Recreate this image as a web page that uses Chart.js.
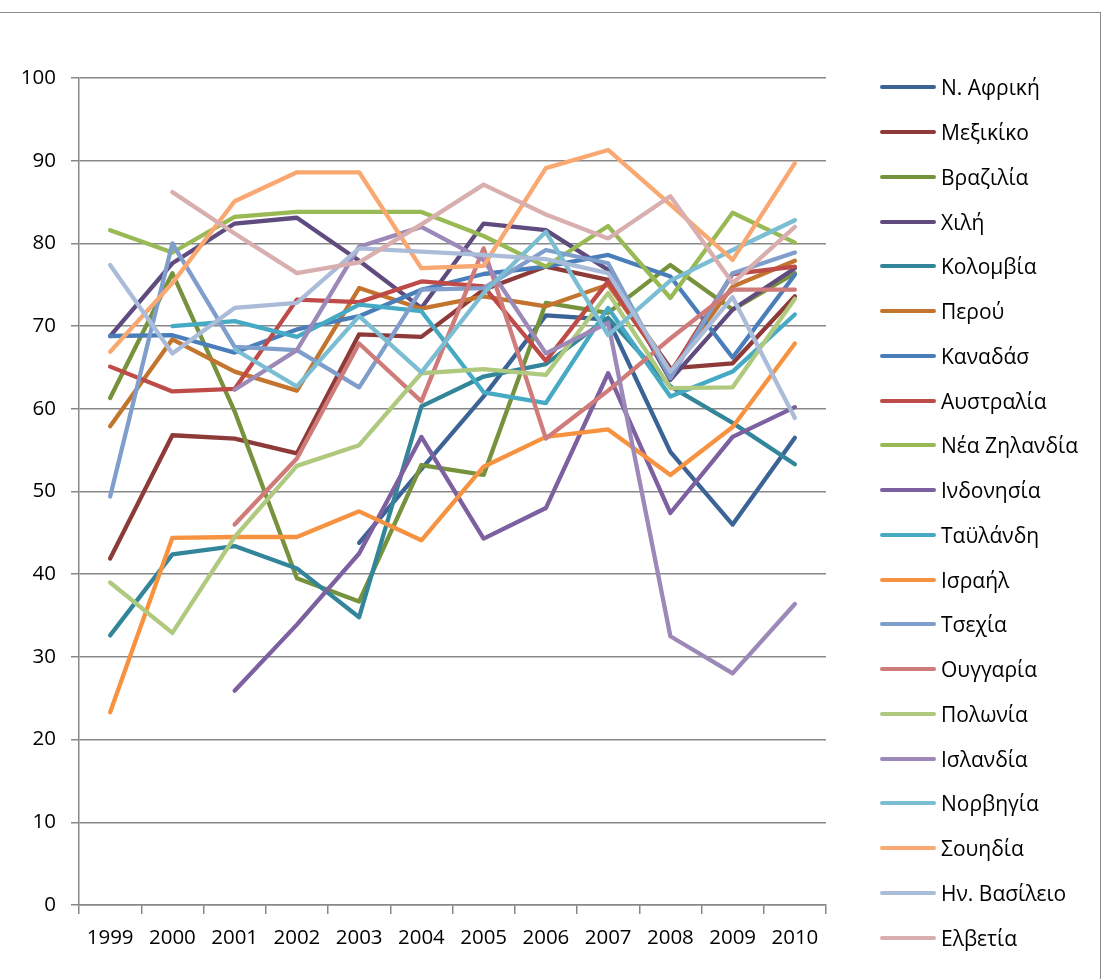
<!DOCTYPE html>
<html>
<head>
<meta charset="utf-8">
<script src="https://cdn.jsdelivr.net/npm/chart.js@4.4.0/dist/chart.umd.min.js"></script>
<style>
  body { margin: 0; background: #fff; font-family: 'Open Sans', sans-serif; }
  #wrap { position: relative; width: 1103px; height: 979px; overflow: hidden; }
  #frame { position: absolute; left: -2px; top: 12px; width: 1101px; height: 1000px; border: 1px solid #8a8a8a; }
  #chart { position: absolute; left: 0; top: 0; }
  #legend { position: absolute; left: 880px; top: 65px; }
  .item { display: flex; align-items: center; height: 44.75px; font-size: 21px; color: #000; white-space: nowrap; }
  .item span.line { display: inline-block; width: 56px; height: 4px; border-radius: 2px; margin-right: 5px; }
</style>
</head>
<body>
<div id="wrap">
  <div id="frame"></div>
  <canvas id="chart" width="1103" height="979"></canvas>
  <div id="legend"></div>
</div>
<script>
// years on the x axis
const years = ['1999', '2000', '2001', '2002', '2003', '2004', '2005', '2006', '2007', '2008', '2009', '2010'];

const countries = ['Ν. Αφρική', 'Μεξικίκο', 'Βραζιλία', 'Χιλή', 'Κολομβία', 'Περού', 'Καναδάσ', 'Αυστραλία',
  'Νέα Ζηλανδία', 'Ινδονησία', 'Ταϋλάνδη', 'Ισραήλ', 'Τσεχία', 'Ουγγαρία', 'Πολωνία', 'Ισλανδία',
  'Νορβηγία', 'Σουηδία', 'Ην. Βασίλειο', 'Ελβετία'];

const colors = ['#3B6396', '#8E3A38', '#76923C', '#5F4B7D', '#33869A', '#C3742F', '#4A7EBB', '#BE4B48',
  '#98B954', '#7D60A0', '#46AAC5', '#F69240', '#7F9ECC', '#CF7B79', '#AFC97E', '#9C89B8',
  '#7BBDD2', '#F9A871', '#ABBCD9', '#D9AEAE'];

// values (null = no value that year)
const nAfriki     = [null, null, null, null, 43.8, 52.7, 61.5, 71.3, 70.8, 54.8, 46.0, 56.5];
const mexiko      = [41.9, 56.8, 56.4, 54.6, 69.0, 68.7, 74.4, 77.2, 75.6, 64.9, 65.5, 73.6];
const brazilia    = [61.3, 76.4, 59.7, 39.5, 36.7, 53.2, 52.0, 72.8, 71.6, 77.4, 72.0, 76.4];
const chili       = [68.8, 77.6, 82.4, 83.1, 77.9, 72.2, 82.4, 81.6, 76.8, 63.5, 72.0, 77.0];
const kolomvia    = [32.6, 42.4, 43.4, 40.7, 34.8, 60.3, 63.9, 65.4, 71.0, 62.7, 58.3, 53.3];
const perou       = [57.9, 68.4, 64.5, 62.2, 74.6, 72.1, 73.6, 72.4, 75.0, 64.5, 74.8, 77.9];
const kanadas     = [68.8, 68.9, 66.8, 69.6, 71.2, 74.4, 76.3, 77.2, 78.6, 76.0, 66.2, 76.2];
const afstralia   = [65.1, 62.1, 62.4, 73.2, 72.9, 75.4, 74.8, 65.8, 75.4, 64.3, 76.3, 77.2];
const neaZilandia = [81.6, 78.9, 83.2, 83.8, 83.8, 83.8, 80.9, 77.2, 82.1, 73.4, 83.7, 80.1];
const indonisia   = [null, null, 25.9, 33.9, 42.5, 56.6, 44.3, 48.0, 64.3, 47.4, 56.6, 60.2];
const tailandi    = [null, 70.0, 70.6, 68.7, 72.6, 71.8, 62.0, 60.7, 72.2, 61.5, 64.5, 71.4];
const israil      = [23.3, 44.4, 44.5, 44.5, 47.6, 44.1, 53.0, 56.6, 57.5, 52.0, 57.8, 67.9];
const tsechia     = [49.4, 80.0, 67.5, 67.1, 62.6, 74.4, 74.6, 79.2, 77.6, 63.7, 76.4, 78.9];
const oungaria    = [null, null, 46.0, 54.0, 67.9, 60.9, 79.4, 56.4, 62.2, 68.5, 74.4, 74.4];
const polonia     = [39.0, 32.9, 44.5, 53.1, 55.6, 64.3, 64.8, 64.1, 74.0, 62.5, 62.6, 73.3];
const islandia    = [null, null, 62.3, 67.1, 79.6, 82.0, 78.0, 66.7, 70.4, 32.5, 28.0, 36.4];
const norvigia    = [null, null, 67.2, 62.7, 71.2, 64.4, 74.0, 81.4, 68.9, 75.5, 79.2, 82.8];
const souidia     = [66.9, 75.2, 85.1, 88.6, 88.6, 77.0, 77.3, 89.1, 91.3, 84.7, 78.0, 89.7];
const hnVasileio  = [77.4, 66.7, 72.2, 72.8, 79.4, 79.0, 78.6, 78.1, 76.4, 64.5, 73.5, 58.9];
const elvetia     = [null, 86.2, 81.2, 76.4, 77.7, 82.3, 87.1, 83.5, 80.6, 85.7, 75.2, 82.0];

const series = [nAfriki, mexiko, brazilia, chili, kolomvia, perou, kanadas, afstralia, neaZilandia, indonisia,
  tailandi, israil, tsechia, oungaria, polonia, islandia, norvigia, souidia, hnVasileio, elvetia];

const yTicks = [0, 10, 20, 30, 40, 50, 60, 70, 80, 90, 100];

const gridColor = '#888888';
const tickFont = {family: "'Open Sans', sans-serif", size: 20.5};

const datasets = series.map((vals, i) => ({
    label: countries[i],
    data: vals,
    borderColor: colors[i],
    backgroundColor: colors[i],
    // later series on top, like the original
    order: series.length - i
}));

new Chart(document.getElementById('chart'), {
    type: 'line',
    data: {labels: years, datasets: datasets},
    options: {
        responsive: false,
        animation: false,
        layout: {padding: {left: 0, right: 277, top: 78, bottom: 0}},
        plugins: {legend: {display: false}, tooltip: {enabled: false}},
        elements: {
            point: {radius: 0, hoverRadius: 0},
            line: {borderWidth: 4.3, tension: 0, borderCapStyle: 'round', borderJoinStyle: 'round'}
        },
        scales: {
            x: {
                offset: true,
                grid: {offset: true, drawOnChartArea: false, tickLength: 9, color: gridColor, lineWidth: 1.5},
                border: {color: gridColor, width: 1.5},
                ticks: {color: '#000', font: tickFont, padding: 12, maxRotation: 0, autoSkip: false},
                afterFit: (s) => { s.height = 74; }
            },
            y: {
                min: 0,
                max: 100,
                afterBuildTicks: (s) => { s.ticks = yTicks.map(v => ({value: v})); },
                grid: {tickLength: 8, color: gridColor, lineWidth: 1.5},
                border: {color: gridColor, width: 1.5},
                ticks: {color: '#000', font: tickFont, padding: 15},
                afterFit: (s) => { s.width = 79; }
            }
        }
    }
});

// legend, one row per country
const legend = document.getElementById('legend');
countries.forEach((name, i) => {
    const row = document.createElement('div');
    row.className = 'item';
    const line = document.createElement('span');
    line.className = 'line';
    line.style.background = colors[i];
    row.appendChild(line);
    row.appendChild(document.createTextNode(name));
    legend.appendChild(row);
});
</script>
</body>
</html>
